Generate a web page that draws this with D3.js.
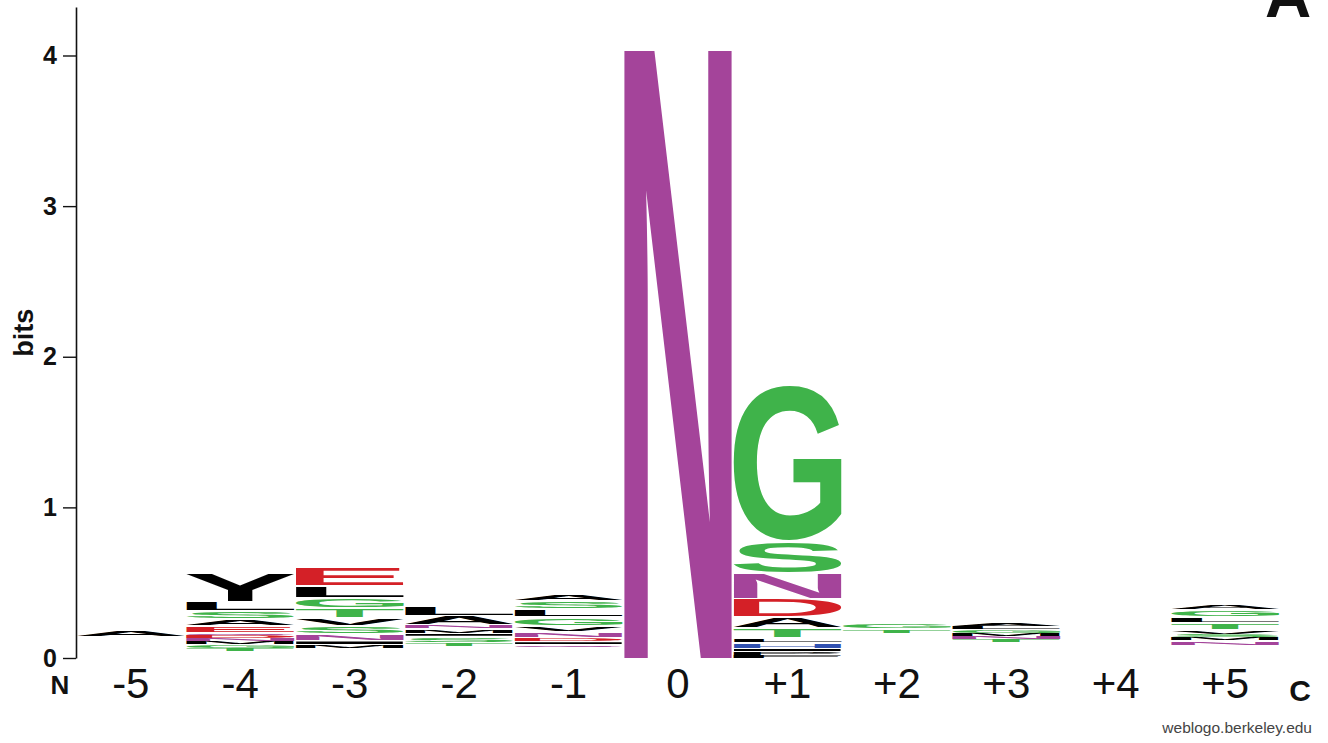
<!DOCTYPE html>
<html>
<head>
<meta charset="utf-8">
<script src="https://cdn.jsdelivr.net/npm/d3@7"></script>
<style>
  body { margin: 0; background: #fff; }
  svg { display: block; }
</style>
</head>
<body>
<svg id="logo"></svg>
<script>
// positions along the sequence
const positions = ['-5', '-4', '-3', '-2', '-1', '0', '+1', '+2', '+3', '+4', '+5'];

// bits below the lowest drawn letter of each stack
const stackFloor = [0.146, 0.046, 0.066, 0.080, 0.073, 0, 0, 0.166, 0.106, 0, 0.086];

// letters of each stack, bottom to top
const stackLetters = [
  ['A'],
  ['T', 'G', 'M', 'N', 'D', 'Q', 'E', 'A', 'S', 'L', 'Y'],
  ['M', 'I', 'N', 'S', 'V', 'T', 'G', 'L', 'E'],
  ['T', 'S', 'I', 'M', 'N', 'A', 'L'],
  ['Q', 'I', 'D', 'N', 'V', 'G', 'L', 'S', 'A'],
  ['N'],
  ['F', 'P', 'I', 'H', 'L', 'T', 'A', 'D', 'N', 'S', 'G'],
  ['T', 'G'],
  ['T', 'N', 'M', 'G', 'L', 'A'],
  [],
  ['N', 'M', 'S', 'V', 'T', 'L', 'G', 'A'],
];

// heights in bits, same order as stackLetters
const stackBits = [
  [0.046],
  [0.020, 0.027, 0.020, 0.020, 0.020, 0.020, 0.046, 0.046, 0.053, 0.060, 0.192],
  [0.027, 0.027, 0.046, 0.053, 0.053, 0.066, 0.066, 0.080, 0.120],
  [0.027, 0.040, 0.020, 0.033, 0.027, 0.060, 0.060],
  [0.020, 0.020, 0.027, 0.040, 0.040, 0.060, 0.053, 0.053, 0.046],
  [4.046],
  [0.020, 0.027, 0.020, 0.040, 0.033, 0.066, 0.073, 0.120, 0.172, 0.212, 1.035],
  [0.033, 0.040],
  [0.020, 0.020, 0.020, 0.027, 0.020, 0.027],
  [],
  [0.033, 0.020, 0.020, 0.033, 0.046, 0.040, 0.046, 0.040],
];

const yTicks = [0, 1, 2, 3, 4];
const maxBits = Math.log2(20);

const colorOf = {
  G: '#3fb34a', S: '#3fb34a', T: '#3fb34a', C: '#3fb34a',
  N: '#a4449a', Q: '#a4449a',
  D: '#d42027', E: '#d42027',
  K: '#3050b0', R: '#3050b0', H: '#3050b0',
};

const width = 1328, height = 743;
const margin = { left: 76, baseline: 658, top: 7 };
const letterGap = 2; // white space above each letter, px

const svg = d3.select('#logo').attr('width', width).attr('height', height);
const font = "'Liberation Sans', Arial, Helvetica, sans-serif";

const x = d3.scaleBand().domain(positions).range([75, 1281]).padding(0.02);
const y = d3.scaleLinear().domain([0, maxBits]).range([margin.baseline, margin.top]);

// ink box of each glyph: measureText rounds too much, so scan pixels instead
const FS = 1000;
const PROBE = 600, OX = 200, OY = 800;
const probe = document.createElement('canvas');
probe.width = 1000; probe.height = 1000;
const pctx = probe.getContext('2d', { willReadFrequently: true });
const inkCache = {};
function ink(ch) {
  if (inkCache[ch]) return inkCache[ch];
  pctx.clearRect(0, 0, 1000, 1000);
  pctx.font = `bold ${PROBE}px ${font}`;
  pctx.fillStyle = '#000';
  pctx.fillText(ch, OX, OY);
  const data = pctx.getImageData(0, 0, 1000, 1000).data;
  let x0 = 1000, x1 = -1, y0 = 1000, y1 = -1;
  for (let yy = 0; yy < 1000; yy++) {
    for (let xx = 0; xx < 1000; xx++) {
      if (data[(yy * 1000 + xx) * 4 + 3] > 127) {
        if (xx < x0) x0 = xx;
        if (xx > x1) x1 = xx;
        if (yy < y0) y0 = yy;
        if (yy > y1) y1 = yy;
      }
    }
  }
  const k = FS / PROBE;
  inkCache[ch] = {
    left: (x0 - OX) * k,
    w: (x1 + 1 - x0) * k,
    asc: (OY - y0) * k,
    h: (y1 + 1 - y0) * k,
  };
  return inkCache[ch];
}

// y axis
const yAxis = svg.append('g')
  .attr('transform', `translate(${margin.left},0)`)
  .call(d3.axisLeft(y).tickValues(yTicks).tickFormat(d3.format('d'))
    .tickSize(13).tickPadding(6).tickSizeOuter(0));
yAxis.select('.domain').attr('stroke', '#111').attr('stroke-width', 1.6);
yAxis.selectAll('.tick line').attr('stroke', '#111').attr('stroke-width', 1.4);
yAxis.selectAll('.tick text')
  .attr('font-family', font).attr('font-weight', 'bold').attr('font-size', 25).attr('fill', '#111');

svg.append('text')
  .attr('transform', `translate(33,${y(2.16)}) rotate(-90)`)
  .attr('text-anchor', 'middle')
  .attr('font-family', font).attr('font-weight', 'bold').attr('font-size', 27)
  .attr('fill', '#111')
  .text('bits');

// stacks
const stacks = svg.append('g').classed('stacks', true);
positions.forEach((pos, i) => {
  let acc = stackFloor[i];
  const col = stacks.append('g').classed('col', true);
  stackLetters[i].forEach((ch, j) => {
    const b = stackBits[i][j];
    const top = y(acc + b);
    const box = y(acc) - top;
    acc += b;
    const gap = Math.min(letterGap, box * 0.4);
    const g = ink(ch);
    const sx = x.bandwidth() / g.w;
    const sy = (box - gap) / g.h;
    col.append('text')
      .attr('font-family', font).attr('font-weight', 'bold').attr('font-size', FS)
      .attr('fill', colorOf[ch] || '#000')
      .attr('transform', `translate(${x(pos)},${top + gap}) scale(${sx},${sy}) translate(${-g.left},${g.asc})`)
      .text(ch);
  });
});

// x labels
svg.append('g').selectAll('text').data(positions).enter()
  .append('text')
  .attr('x', d => x(d) + x.bandwidth() / 2)
  .attr('y', 698)
  .attr('text-anchor', 'middle')
  .attr('font-family', font).attr('font-size', 42).attr('fill', '#111')
  .text(d => d);

svg.append('text')
  .attr('x', 60).attr('y', 694).attr('text-anchor', 'middle')
  .attr('font-family', font).attr('font-weight', 'bold').attr('font-size', 26).attr('fill', '#111')
  .text('N');
svg.append('text')
  .attr('x', 1300).attr('y', 701).attr('text-anchor', 'middle')
  .attr('font-family', font).attr('font-weight', 'bold').attr('font-size', 30).attr('fill', '#111')
  .text('C');

svg.append('text')
  .attr('x', 1312).attr('y', 733).attr('text-anchor', 'end')
  .attr('font-family', font).attr('font-size', 15.5).attr('fill', '#444')
  .text('weblogo.berkeley.edu');

// panel letter
svg.append('text')
  .attr('x', 1288).attr('y', 17).attr('text-anchor', 'middle')
  .attr('font-family', font).attr('font-weight', 'bold').attr('font-size', 64).attr('fill', '#111')
  .text('A');
</script>
</body>
</html>
